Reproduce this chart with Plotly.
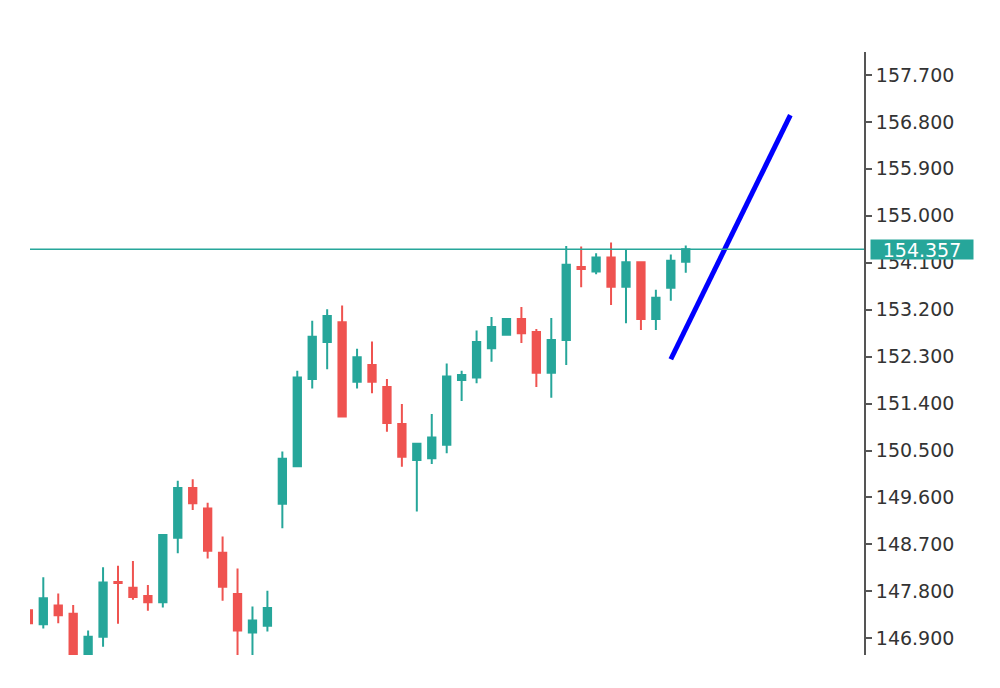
import plotly.graph_objects as go

# ---- data ----
bar_index = list(range(45))
open_ = [147.44, 147.17, 147.53, 147.37, 146.45, 146.93, 147.98, 147.87, 147.71, 147.59,
         148.83, 149.78, 149.39, 148.54, 147.75, 147.01, 147.14, 149.48, 150.20, 151.87,
         152.58, 152.96, 151.82, 152.14, 151.72, 151.01, 150.32, 150.35, 150.61, 151.85,
         151.90, 152.46, 152.72, 153.02, 152.77, 151.99, 152.62, 154.02, 153.93, 154.20,
         153.64, 154.11, 153.02, 153.62, 154.12]
high = [147.45, 148.07, 147.76, 147.54, 147.05, 148.26, 148.29, 148.38, 147.92, 148.90,
        149.92, 149.95, 149.50, 148.85, 148.24, 147.51, 147.81, 150.48, 152.03, 152.99,
        153.21, 153.28, 152.45, 152.59, 151.87, 151.39, 150.63, 151.20, 152.17, 152.03,
        152.80, 153.06, 153.04, 153.25, 152.83, 153.04, 154.42, 154.41, 154.28, 154.49,
        154.36, 154.13, 153.58, 154.26, 154.43]
low = [147.18, 147.09, 147.19, 146.30, 146.35, 146.74, 147.18, 147.64, 147.43, 147.49,
       148.53, 149.36, 148.43, 147.62, 146.50, 146.55, 147.03, 149.01, 150.19, 151.69,
       152.06, 151.15, 151.69, 151.60, 150.86, 150.19, 149.33, 150.24, 150.45, 151.45,
       151.79, 152.20, 152.71, 152.56, 151.72, 151.51, 152.14, 153.63, 153.88, 153.29,
       152.94, 152.81, 152.81, 153.37, 153.91]
close = [147.19, 147.67, 147.34, 146.45, 146.93, 147.97, 147.96, 147.69, 147.59, 148.88,
         149.78, 149.49, 148.58, 147.89, 147.05, 147.24, 147.48, 150.34, 151.90, 152.68,
         153.08, 151.15, 152.29, 151.82, 151.03, 150.38, 150.63, 150.75, 151.92, 151.95,
         152.58, 152.87, 153.02, 152.75, 151.99, 152.62, 154.06, 153.98, 154.20, 153.64,
         154.11, 153.02, 153.43, 154.14, 154.357]

trend_x = [43, 51]
trend_y = [152.25, 156.93]

tick_values = [146.9, 147.8, 148.7, 149.6, 150.5, 151.4, 152.3, 153.2, 154.1, 155.0,
               155.9, 156.8, 157.7]
tick_labels = ["146.900", "147.800", "148.700", "149.600", "150.500", "151.400",
               "152.300", "153.200", "154.100", "155.000", "155.900", "156.800", "157.700"]

last_price = close[-1]

UP = "#26a69a"
DOWN = "#ef5350"

fig = go.Figure()
fig.add_trace(go.Candlestick(
    x=bar_index, open=open_, high=high, low=low, close=close,
    increasing=dict(line=dict(color=UP, width=2), fillcolor=UP),
    decreasing=dict(line=dict(color=DOWN, width=2), fillcolor=DOWN),
    whiskerwidth=0, showlegend=False, hoverinfo="skip",
))
fig.add_trace(go.Scatter(
    x=trend_x, y=trend_y, mode="lines",
    line=dict(color="#0000ff", width=5), showlegend=False, hoverinfo="skip",
))

fig.add_shape(type="line", xref="paper", x0=0, x1=1, yref="y",
              y0=last_price, y1=last_price, line=dict(color=UP, width=1.5))

fig.add_annotation(
    xref="paper", x=1, xanchor="left", xshift=6,
    yref="y", y=last_price, yanchor="middle",
    text=f"{last_price:.3f}", showarrow=False,
    bgcolor=UP, font=dict(family="DejaVu Sans", size=19, color="white"),
    width=100, height=17, borderpad=1,
)

# page body has an 8px default margin: figure is 992x680 so the plot area
# lands at x 30..864, y 52..655 in the window
fig.update_layout(
    width=992, height=680,
    margin=dict(l=22, r=136, t=44, b=33),
    paper_bgcolor="white", plot_bgcolor="white",
    xaxis=dict(range=[0.11, 55.93], visible=False, showgrid=False,
               rangeslider=dict(visible=False), fixedrange=True),
    yaxis=dict(side="right", range=[146.58, 158.14], showgrid=False, zeroline=False,
               showline=True, linecolor="#555555", linewidth=2,
               ticks="outside", ticklen=6, tickwidth=2, tickcolor="#555555",
               tickvals=tick_values, ticktext=tick_labels,
               tickfont=dict(family="DejaVu Sans", size=19, color="#333333")),
    hovermode=False,
)

fig.write_html("out.html", config={"displayModeBar": False})
